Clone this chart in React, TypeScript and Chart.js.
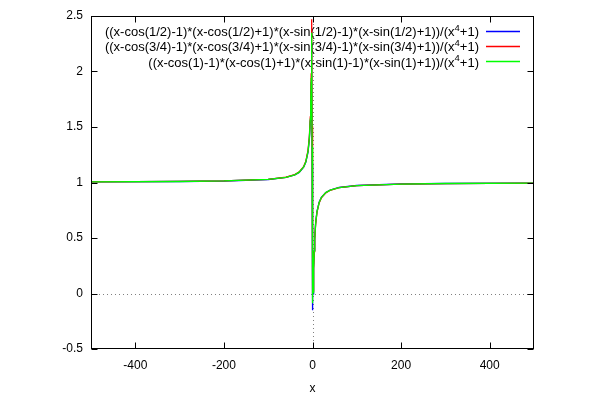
import { useEffect, useRef } from "react";
import { Chart, registerables } from "chart.js";

Chart.register(...registerables);

const FONT = '"Liberation Sans", Arial, Helvetica, sans-serif';

// sample abscissae shared by the three curves
const xValues = [-500, -300, -200, -100, -60, -40, -30, -20, -15, -10, -7, -5, -4, -3, -2.5, -2, -1.6, -1.2, -0.9, -0.6, -0.3, 0, 0.3, 0.6, 1, 1.5, 2, 3, 4, 5, 7, 10, 15, 20, 30, 40, 60, 100, 200, 300, 500];

const blueValues = [1.0054, 1.009, 1.0136, 1.0272, 1.0454, 1.0683, 1.0912, 1.1372, 1.1835, 1.2767, 1.3966, 1.5553, 1.6907, 1.901, 2.046, 2.205, 2.261, 1.964, 1.178, 0.173, -0.151, 0.177, 0.64, 0.805, 0.359, -0.004, 0.02, 0.229, 0.388, 0.4965, 0.6306, 0.737, 0.8226, 0.8662, 0.9103, 0.9326, 0.955, 0.9729, 0.9864, 0.991, 0.9946];
const redValues = [1.0057, 1.0094, 1.0142, 1.0284, 1.0474, 1.0713, 1.0953, 1.1436, 1.1924, 1.2912, 1.4195, 1.5917, 1.7409, 1.979, 2.151, 2.353, 2.471, 2.257, 1.507, 0.44, -0.002, 0.249, 0.69, 0.864, 0.417, 0.022, 0.026, 0.221, 0.377, 0.4854, 0.6205, 0.7287, 0.8164, 0.8613, 0.9069, 0.9299, 0.9536, 0.9718, 0.9859, 0.9906, 0.9943];
const greenValues = [1.0055, 1.0092, 1.0138, 1.0277, 1.0463, 1.0696, 1.093, 1.14, 1.1874, 1.283, 1.4066, 1.5712, 1.7126, 1.935, 2.092, 2.269, 2.35, 2.09, 1.319, 0.286, -0.088, 0.207, 0.661, 0.831, 0.384, 0.007, 0.023, 0.225, 0.383, 0.4916, 0.6261, 0.7334, 0.8199, 0.8641, 0.9088, 0.9314, 0.9544, 0.9724, 0.9862, 0.9908, 0.9945];

const seriesLabels = [
  "((x-cos(1/2)-1)*(x-cos(1/2)+1)*(x-sin(1/2)-1)*(x-sin(1/2)+1))/(x^4+1)",
  "((x-cos(3/4)-1)*(x-cos(3/4)+1)*(x-sin(3/4)-1)*(x-sin(3/4)+1))/(x^4+1)",
  "((x-cos(1)-1)*(x-cos(1)+1)*(x-sin(1)-1)*(x-sin(1)+1))/(x^4+1)",
];
const seriesColors = ["#0000ff", "#ff0000", "#00ff00"];

const xTicks = [-400, -200, 0, 200, 400];
const yTicks = [-0.5, 0, 0.5, 1, 1.5, 2, 2.5];
const xTitle = "x";

const LINE_W = 1.3;
const KEY_ROWS = [30.5, 45.8, 61.1];
const KEY_FONT = 13;

const framePlugin = {
  id: "gnuframe",
  beforeDatasetsDraw(chart: any) {
    const { ctx, chartArea: a, scales } = chart;
    const xs = scales.x;
    const ys = scales.y;
    ctx.save();
    // zero axes (dotted)
    ctx.strokeStyle = "#808080";
    ctx.lineWidth = 1;
    ctx.setLineDash([1, 3]);
    const y0 = Math.round(ys.getPixelForValue(0)) + 0.5;
    ctx.beginPath();
    ctx.moveTo(a.left, y0);
    ctx.lineTo(a.right, y0);
    ctx.stroke();
    const x0 = Math.round(xs.getPixelForValue(0)) + 0.5;
    ctx.beginPath();
    ctx.moveTo(x0, a.top);
    ctx.lineTo(x0, a.bottom);
    ctx.stroke();
    ctx.setLineDash([]);

    // key text
    const rightText = 479;
    for (let i = 0; i < seriesLabels.length; i++) {
      const yc = KEY_ROWS[i] + 2;
      const parts = seriesLabels[i].split("^");
      const main = parts[0];
      const sup = parts[1].charAt(0);
      const rest = parts[1].slice(1);
      ctx.font = `${KEY_FONT}px ${FONT}`;
      const wMain = ctx.measureText(main).width;
      const wRest = ctx.measureText(rest).width;
      ctx.font = `9.5px ${FONT}`;
      const wSup = ctx.measureText(sup).width;
      let xpos = rightText - (wMain + wSup + wRest);
      ctx.fillStyle = "#000";
      ctx.textBaseline = "middle";
      ctx.textAlign = "left";
      ctx.font = `${KEY_FONT}px ${FONT}`;
      ctx.fillText(main, xpos, yc);
      xpos += wMain;
      ctx.font = `9.5px ${FONT}`;
      ctx.fillText(sup, xpos, yc - 4.5);
      xpos += wSup;
      ctx.font = `${KEY_FONT}px ${FONT}`;
      ctx.fillText(rest, xpos, yc);
    }
    ctx.restore();
  },
  afterDraw(chart: any) {
    const { ctx, chartArea: a, scales } = chart;
    const xs = scales.x;
    const ys = scales.y;
    ctx.save();
    // key samples
    for (let i = 0; i < seriesColors.length; i++) {
      ctx.strokeStyle = seriesColors[i];
      ctx.lineWidth = 1.5;
      ctx.beginPath();
      ctx.moveTo(486, Math.round(KEY_ROWS[i]) + 0.5);
      ctx.lineTo(520, Math.round(KEY_ROWS[i]) + 0.5);
      ctx.stroke();
    }
    ctx.strokeStyle = "#000";
    ctx.lineWidth = 1;
    const L = Math.round(a.left) + 0.5;
    const R = Math.round(a.right) - 0.5;
    const T = Math.round(a.top) + 0.5;
    const B = Math.round(a.bottom) - 0.5;
    ctx.strokeRect(L, T, R - L, B - T);
    ctx.beginPath();
    for (const v of xTicks) {
      const px = Math.round(xs.getPixelForValue(v)) + 0.5;
      ctx.moveTo(px, B);
      ctx.lineTo(px, B - 6);
      ctx.moveTo(px, T);
      ctx.lineTo(px, T + 6);
    }
    for (const v of yTicks) {
      const py = Math.round(ys.getPixelForValue(v)) + 0.5;
      ctx.moveTo(L, py);
      ctx.lineTo(L + 6, py);
      ctx.moveTo(R, py);
      ctx.lineTo(R - 6, py);
    }
    ctx.stroke();
    ctx.restore();
  },
};

export default function App() {
  const ref = useRef<HTMLCanvasElement>(null);
  useEffect(() => {
    document.body.style.margin = "0";
    const canvas = ref.current;
    if (!canvas) return;
    const allValues = [blueValues, redValues, greenValues];
    const datasets = seriesLabels.map((label, k) => ({
      label,
      data: xValues.map((x, i) => ({ x, y: allValues[k][i] })),
      showLine: true,
      borderColor: seriesColors[k],
      backgroundColor: seriesColors[k],
      borderWidth: LINE_W,
      pointRadius: 0,
      pointHoverRadius: 0,
      fill: false,
      tension: 0,
      order: 3 - k,
    }));
    const chart = new Chart(canvas, {
      type: "scatter",
      data: { datasets },
      options: {
        animation: false,
        responsive: false,
        maintainAspectRatio: false,
        events: [],
        layout: { padding: { top: 16, right: 66, left: 0, bottom: 0 } },
        plugins: { legend: { display: false }, tooltip: { enabled: false } },
        scales: {
          x: {
            type: "linear",
            min: -500,
            max: 500,
            grid: { display: false, drawTicks: false, tickLength: 0 },
            border: { display: false },
            ticks: {
              padding: 9,
              color: "#000",
              font: { family: FONT, size: 12 },
              maxRotation: 0,
              callback: (v: any) => String(v),
            },
            afterBuildTicks: (s: any) => {
              s.ticks = xTicks.map((v) => ({ value: v }));
            },
            afterFit: (s: any) => {
              s.height = 51;
            },
            title: {
              display: true,
              text: xTitle,
              color: "#000",
              font: { family: FONT, size: 12 },
              padding: { top: 0, bottom: 4 },
            },
          },
          y: {
            type: "linear",
            min: -0.5,
            max: 2.5,
            grid: { display: false, drawTicks: false, tickLength: 0 },
            border: { display: false },
            ticks: {
              padding: 8,
              color: "#000",
              font: { family: FONT, size: 12 },
              callback: (v: any) => String(v),
            },
            afterBuildTicks: (s: any) => {
              s.ticks = yTicks.map((v) => ({ value: v }));
            },
            afterFit: (s: any) => {
              s.width = 91;
            },
          },
        },
      },
      plugins: [framePlugin],
    });
    return () => chart.destroy();
  }, []);
  return (
    <div style={{ width: 600, height: 400, background: "#fff" }}>
      <canvas ref={ref} width={600} height={400} style={{ display: "block" }} />
    </div>
  );
}
